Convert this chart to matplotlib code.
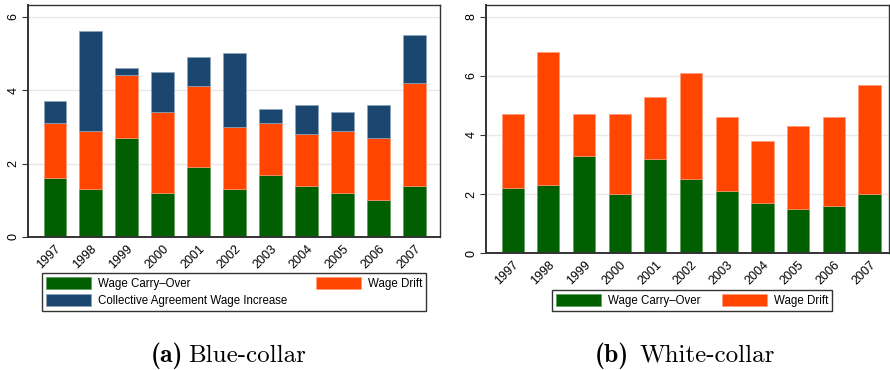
import numpy as np
import matplotlib.pyplot as plt

plt.rcParams['font.family'] = ['Liberation Sans', 'DejaVu Sans']

# wage growth components by year (percent)
years = ['1997', '1998', '1999', '2000', '2001', '2002', '2003', '2004', '2005', '2006', '2007']

blue_carry_over = [1.6, 1.3, 2.7, 1.2, 1.9, 1.3, 1.7, 1.4, 1.2, 1.0, 1.4]
blue_drift = [1.5, 1.6, 1.7, 2.2, 2.2, 1.7, 1.4, 1.4, 1.7, 1.7, 2.8]
blue_agreement = [0.6, 2.7, 0.2, 1.1, 0.8, 2.0, 0.4, 0.8, 0.5, 0.9, 1.3]

white_carry_over = [2.2, 2.3, 3.3, 2.0, 3.2, 2.5, 2.1, 1.7, 1.5, 1.6, 2.0]
white_drift = [2.5, 4.5, 1.4, 2.7, 2.1, 3.6, 2.5, 2.1, 2.8, 3.0, 3.7]

GREEN = '#005f00'
ORANGE = '#ff4500'
NAVY = '#1b4670'

fig = plt.figure(figsize=(8.9, 3.7), dpi=100)
ax1 = fig.add_axes([0.0315, 0.3595, 0.4625, 0.627])
ax2 = fig.add_axes([0.546, 0.316, 0.453, 0.6705])

x = np.arange(len(years))
w = 0.62


def style_axis(ax, ymax, yticks):
    ax.set_xlim(-0.74, 10.7)
    ax.set_ylim(0, ymax)
    ax.set_yticks(yticks)
    ax.set_yticklabels([str(t) for t in yticks], rotation=90, va='center', fontsize=9)
    ax.set_xticks(x)
    ax.set_xticklabels(years, rotation=45, ha='right', rotation_mode='anchor', fontsize=9)
    ax.tick_params(axis='x', length=0, pad=4)
    ax.tick_params(axis='y', length=4, width=0.8, direction='out', pad=2, color='#333333')
    for t in yticks[1:]:
        ax.axhline(t, color='#e8e8e8', lw=1.0, zorder=0)
    for s in ax.spines.values():
        s.set_color('#333333')
        s.set_linewidth(1.0)
    ax.spines['left'].set_linewidth(1.4)
    ax.spines['bottom'].set_linewidth(1.4)


# blue-collar panel
b_base = np.array(blue_carry_over)
b_mid = b_base + np.array(blue_drift)
h1 = ax1.bar(x, blue_carry_over, w, color=GREEN, edgecolor='#5e9a5e', lw=0.5, zorder=2)
h2 = ax1.bar(x, blue_drift, w, bottom=b_base, color=ORANGE, edgecolor='#ff9a7a', lw=0.5, zorder=2)
h3 = ax1.bar(x, blue_agreement, w, bottom=b_mid, color=NAVY, edgecolor='#8ea4bb', lw=0.5, zorder=2)
style_axis(ax1, 6.32, [0, 2, 4, 6])

# white-collar panel
w_base = np.array(white_carry_over)
g1 = ax2.bar(x, white_carry_over, w, color=GREEN, edgecolor='#5e9a5e', lw=0.5, zorder=2)
g2 = ax2.bar(x, white_drift, w, bottom=w_base, color=ORANGE, edgecolor='#ff9a7a', lw=0.5, zorder=2)
style_axis(ax2, 8.4, [0, 2, 4, 6, 8])
ax2.set_xlim(-0.75, 10.55)

leg_kw = dict(loc='lower left', mode='expand', fontsize=8.3, fancybox=False, frameon=True,
              edgecolor='black', handlelength=3.9, handleheight=1.25, handletextpad=0.6,
              borderaxespad=0, borderpad=0.35, labelspacing=0.35)
l1 = fig.legend([h1, h3, h2], ['Wage Carry\u2013Over', 'Collective Agreement Wage Increase', 'Wage Drift'],
                ncol=2, bbox_to_anchor=(42 / 890, 1 - 311 / 370, 384 / 890, 38 / 370), **leg_kw)
l1.get_frame().set_linewidth(1.0)
l2 = fig.legend([g1, g2], ['Wage Carry\u2013Over', 'Wage Drift'],
                ncol=2, bbox_to_anchor=(552 / 890, 1 - 311 / 370, 280 / 890, 22 / 370), **leg_kw)
l2.get_frame().set_linewidth(1.0)

# panel captions
cap_y = 1 - 362 / 370
fig.text(183 / 890, cap_y, '(a)', family='cmb10', fontsize=18.5, ha='right', va='baseline')
fig.text(188 / 890, cap_y, 'Blue-collar', family='cmr10', fontsize=18, ha='left', va='baseline')
fig.text(629 / 890, cap_y, '(b)', family='cmb10', fontsize=18.5, ha='right', va='baseline')
fig.text(640 / 890, cap_y, 'White-collar', family='cmr10', fontsize=18, ha='left', va='baseline')

fig.savefig('out.png', dpi=100)
